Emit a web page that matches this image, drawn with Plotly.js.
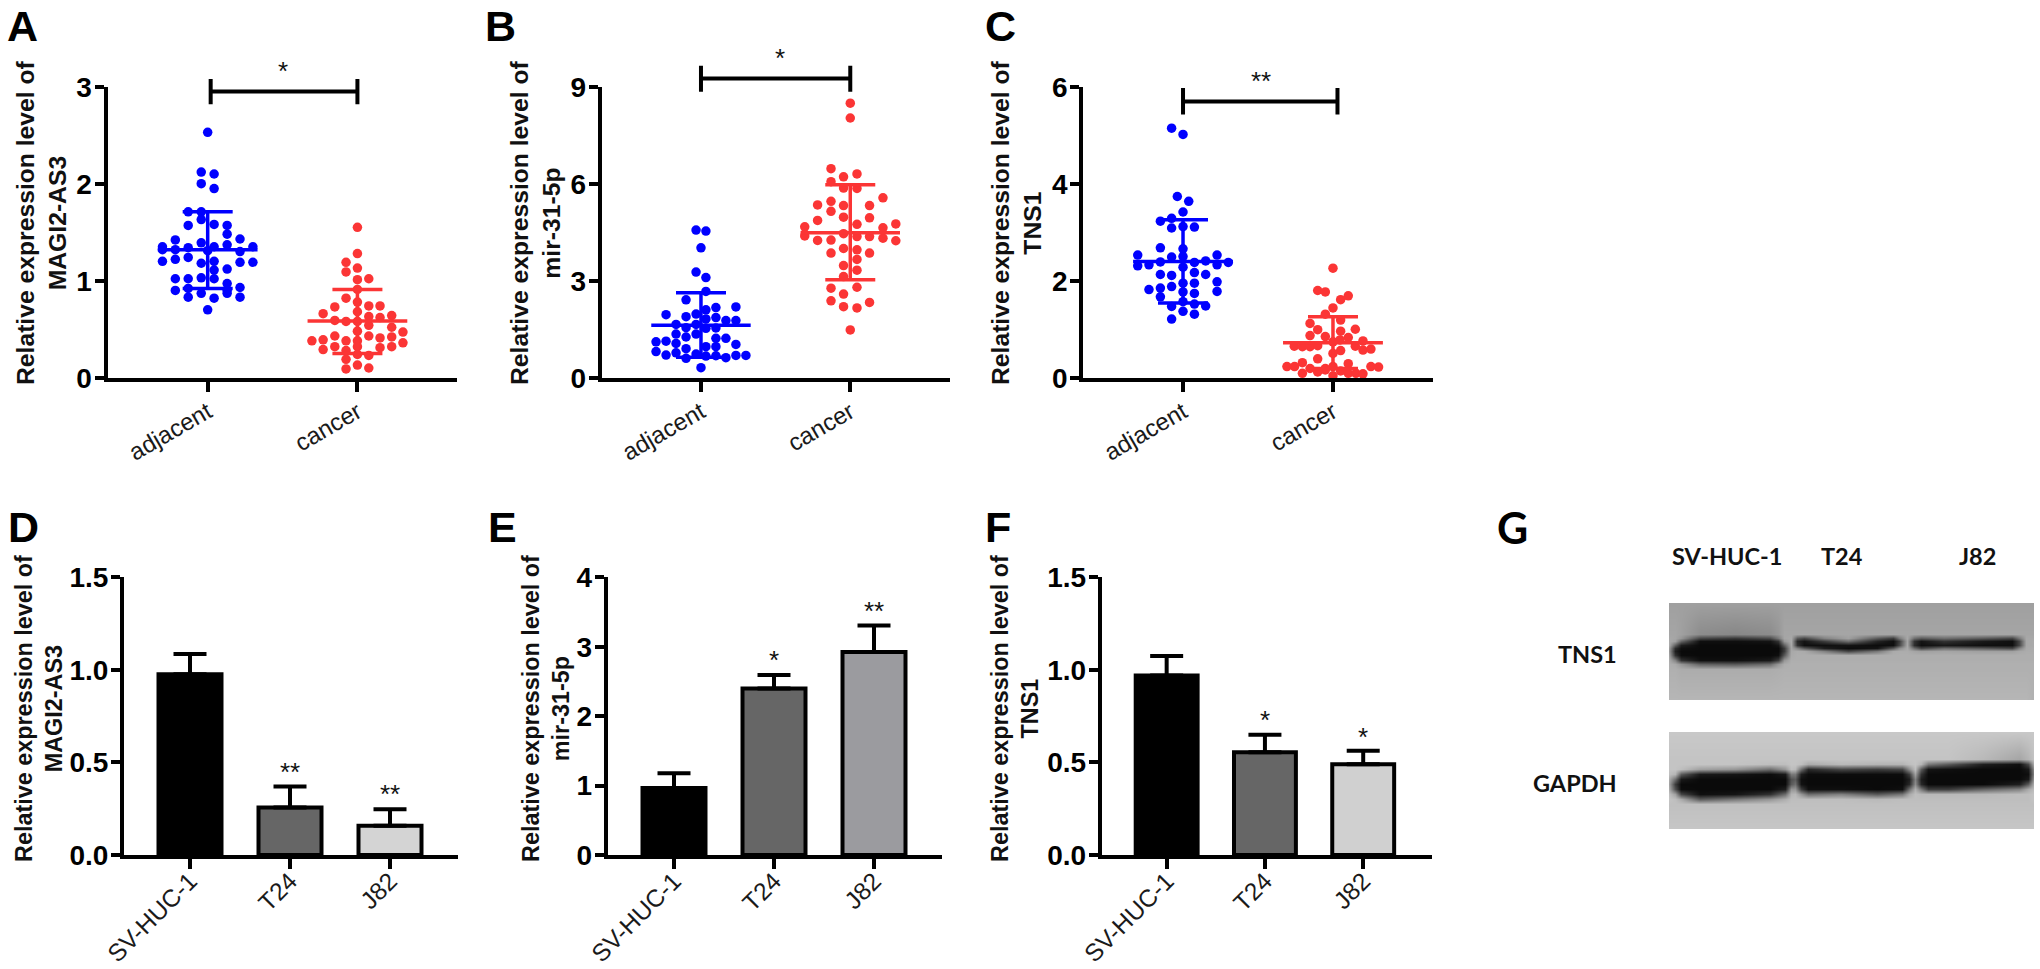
<!DOCTYPE html>
<html><head><meta charset="utf-8">
<script src="https://cdn.plot.ly/plotly-3.0.1.min.js"></script>
<style>html,body{margin:0;padding:0;background:#fff}#chart{width:2040px;height:969px}</style>
</head><body><div id="chart"></div>
<script>
const groupsAB = ['adjacent','cancer'];
const cellLines = ['SV-HUC-1','T24','J82'];

// Panel A: MAGI2-AS3 in tissue
const aAdjY = [2.53,2.12,2.10,2.00,1.95,1.71,1.71,1.63,1.57,1.58,1.57,1.48,1.42,1.43,1.39,1.35,1.35,1.34,1.37,1.35,1.32,1.32,1.30,1.31,1.20,1.22,1.24,1.18,1.20,1.19,1.19,1.11,1.12,1.02,1.02,1.03,1.02,.97,.92,.93,.90,.90,.87,.87,.83,.82,.83,.70];
const aAdjSwarm = [0,-.043,.043,-.043,.043,-.13,-.043,-.043,-.13,.043,.13,.13,-.216,.216,-.043,.043,-.302,-.13,.13,.302,-.302,-.216,.216,0,-.302,-.216,-.13,-.043,.043,.216,.302,.043,.13,-.216,-.13,-.043,.043,.13,-.13,.216,.13,-.216,-.043,.13,-.13,.043,.216,0];
const aCanY = [1.55,1.28,1.19,1.13,1.09,1.01,1.02,.91,.82,.78,.73,.74,.74,.66,.68,.64,.63,.62,.59,.58,.58,.54,.52,.48,.43,.43,.47,.38,.39,.38,.38,.41,.42,.36,.32,.29,.32,.31,.32,.28,.24,.23,.19,.13,.09,.10];
const aCanSwarm = [0,0,-.076,0,-.076,0,.076,0,-.076,0,-.151,.076,.151,-.229,0,.229,.076,.151,-.151,-.076,0,.076,.229,0,.076,-.151,.304,-.304,-.229,-.076,0,.151,.229,.304,-.151,-.229,0,.151,.229,-.076,0,.076,-.076,0,-.076,.076];
const aSummary = {mean:[1.32,.585], upper:[1.71,.91], lower:[.92,.25]};

// Panel B: mir-31-5p in tissue
const bAdjY = [4.57,4.54,4.02,3.27,3.10,2.67,2.41,2.10,2.17,2.19,1.95,1.89,1.97,1.86,1.82,1.77,1.77,1.65,1.65,1.53,1.55,1.54,1.35,1.35,1.26,1.22,1.22,1.11,1.13,1.06,1.03,.96,.96,.90,.81,.77,.70,.73,.67,.68,.69,.69,.60,.62,.31];
const bAdjSwarm = [-.033,.033,0,-.033,.033,.033,-.1,.033,.1,.234,-.234,-.1,-.033,.1,.033,.167,.234,-.167,-.033,.033,-.1,.1,-.167,-.033,-.1,.1,.167,-.301,-.234,-.167,.234,.033,.1,-.1,-.301,-.167,-.234,-.033,.033,.1,.234,.301,-.1,.167,0];
const bCanY = [8.50,8.04,6.47,6.31,6.22,6.07,5.87,5.86,5.57,5.46,5.35,5.33,5.33,5.15,4.97,4.95,4.87,4.75,4.67,4.64,4.76,4.39,4.46,4.37,4.37,4.32,4.25,4.26,4.24,4.0,3.96,3.86,3.86,3.66,3.47,3.33,3.13,2.77,2.80,2.59,2.38,2.33,2.20,2.16,1.48];
const bCanSwarm = [0,0,-.129,.045,-.045,-.129,-.045,.045,.219,-.129,-.219,-.045,.129,-.129,-.045,.129,-.219,.045,-.305,.219,.305,-.305,-.045,.045,.129,.219,-.219,-.129,.305,-.045,.045,-.129,.129,.045,-.045,.045,-.045,-.129,.045,-.045,-.129,.129,-.045,.045,0];
const bSummary = {mean:[1.62,4.49], upper:[2.63,5.97], lower:[.63,3.03]};

// Panel C: TNS1 in tissue
const cAdjY = [5.15,5.02,3.74,3.64,3.42,3.29,3.23,3.12,3.09,3.11,2.68,2.66,2.53,2.49,2.53,2.50,2.39,2.38,2.41,2.33,2.38,2.31,2.33,2.28,2.13,2.11,2.17,2.13,1.98,1.95,1.95,1.88,1.85,1.82,1.77,1.74,1.78,1.67,1.57,1.52,1.47,1.48,1.37,1.31,1.21];
const cAdjSwarm = [-.076,0,-.038,.038,0,-.076,-.151,0,-.076,.076,-.151,0,-.302,-.076,.227,0,-.151,.076,.151,.227,.302,-.302,-.227,0,-.151,-.076,.076,.151,.227,0,.076,-.076,-.151,-.227,0,.076,.227,-.151,0,.076,-.076,.151,0,.076,-.076];
const cCanY = [2.26,1.80,1.77,1.69,1.61,1.44,1.31,1.19,1.12,.99,.96,1.00,.87,.85,.83,.78,.76,.74,.65,.64,.64,.66,.65,.57,.59,.56,.50,.39,.31,.29,.23,.23,.19,.19,.23,.14,.23,.22,.09,.12,.04,.09,.09,.08,.16];
const cCanSwarm = [0,-.102,-.051,.102,.051,0,-.051,.051,-.153,-.102,.051,.149,-.153,-.051,.102,.047,.2,0,-.258,-.204,-.153,-.102,.149,.2,.253,.051,0,-.102,-.204,.102,-.307,-.256,-.153,-.051,0,.051,.253,.304,-.204,-.102,0,.102,.153,.2,-.051];
const cSummary = {mean:[2.40,.72], upper:[3.26,1.26], lower:[1.54,.19]};

// Panels D-F: cell lines
const dValues = [.976,.256,.158], dErrors = [.11,.114,.089];
const eValues = [.966,2.397,2.925], eErrors = [.211,.197,.38];
const fValues = [.97,.555,.49], fErrors = [.105,.095,.073];

// Western blot densitometry, grey level (0-255) sampled along the membrane
const blotTnsCols = [514,532,548,600,700,800,820,838,858,875,895,950,1020,1100,1145,1162,1185,1205,1225,1290,1400,1480,1500,1520,1543];
const blotTnsRows = [306,400,412,422,432,442,452,465,478,490,505,600];
const blotTnsZ = [
[160,160,160,160,160,160,160,160,160,160,160,160,160,160,160,160,160,160,160,160,160,160,160,160,160],
[165,165,160,140,135,140,150,165,165,165,165,165,165,165,165,165,165,165,165,165,165,165,165,165,165],
[168,165,150,70,55,75,120,165,168,90,70,130,160,90,60,120,168,110,90,110,90,70,120,168,168],
[170,160,100,15,15,20,50,150,170,40,20,60,110,35,15,60,165,50,20,50,25,15,70,168,170],
[168,95,30,10,10,10,20,95,168,50,15,15,20,12,15,70,168,45,15,25,15,15,70,168,170],
[155,45,15,10,10,10,10,60,165,130,90,30,12,20,90,140,170,110,70,110,90,70,130,170,172],
[150,30,10,10,10,10,10,60,168,172,170,130,70,120,170,172,172,165,160,165,160,160,168,172,172],
[160,50,12,10,10,10,15,90,170,174,174,174,174,174,174,174,174,174,174,174,174,174,174,174,174],
[170,130,50,15,15,25,60,150,174,174,174,174,174,174,174,174,174,174,174,174,174,174,174,174,174],
[175,170,150,100,90,110,150,172,176,176,176,176,176,176,176,176,176,176,176,176,176,176,176,176,176],
[176,176,172,172,172,172,174,176,176,176,176,176,176,176,176,176,176,176,176,176,176,176,176,176,176],
[182,182,182,182,182,182,182,182,182,182,182,182,182,182,182,182,182,182,182,182,182,182,182,182,176]];
const blotGapdhCols = [514,532,548,600,700,800,840,858,870,885,905,1000,1100,1170,1190,1208,1225,1245,1300,1400,1500,1525,1543];
const blotGapdhRows = [692,775,790,805,820,835,850,865,880,895,910,987];
const blotGapdhZ = [
[200,200,200,200,200,200,200,200,200,200,200,200,200,200,200,200,200,200,200,200,200,200,200],
[196,196,196,196,196,196,196,196,196,196,196,196,196,196,196,196,196,196,196,185,165,180,196],
[196,196,196,196,196,190,190,196,196,190,170,185,180,180,190,196,180,120,90,30,15,70,180],
[196,196,190,160,150,110,150,190,185,110,40,70,60,70,140,190,90,20,15,10,10,25,150],
[190,180,90,25,20,12,25,120,120,30,12,12,12,12,60,160,50,10,10,10,10,15,140],
[170,110,25,10,10,10,10,80,90,15,10,10,10,10,30,130,30,10,10,10,10,25,160],
[160,60,10,10,10,10,10,90,110,18,10,10,10,10,40,140,40,10,10,10,30,90,180],
[170,80,12,10,10,10,30,150,150,60,15,15,10,15,110,175,120,60,60,100,130,170,190],
[190,160,70,15,20,50,110,180,185,150,110,130,90,120,170,190,185,185,185,185,190,190,196],
[196,190,170,90,120,150,175,190,190,190,190,190,185,190,190,190,190,190,190,190,190,190,196],
[192,192,192,192,192,192,192,192,192,192,192,192,192,192,192,192,192,192,192,192,192,192,192],
[198,198,198,198,198,198,198,198,198,198,198,198,198,198,198,198,198,198,198,198,198,198,198]];

const W = 2040, H = 969;
const FONT = '"Liberation Sans", Arial, sans-serif';
const BLUE = '#0000ff', RED = '#fb3535', LW = 4;
const traces = [], annotations = [];
const layout = {
  width: W, height: H, margin: {l:0,r:0,t:0,b:0}, showlegend: false,
  paper_bgcolor: '#fff', plot_bgcolor: 'rgba(0,0,0,0)', font: {family: FONT, color: '#000'},
  annotations
};
const px = v => v / W, py = v => 1 - v / H;

function axes(n, box, xRange, yMax, yVals, yText, xVals, xText, angle, labelSize, standoff) {
  const sfx = n === 1 ? '' : n;
  layout['xaxis' + sfx] = {
    domain: [px(box.l), px(box.r)], range: xRange, anchor: 'y' + sfx, showgrid: false, zeroline: false,
    showline: true, linecolor: '#000', linewidth: LW, ticks: 'outside', ticklen: 10, tickwidth: LW, tickcolor: '#000',
    tickmode: 'array', tickvals: xVals, ticktext: xText, tickangle: angle, ticklabelstandoff: standoff,
    tickfont: {family: FONT, size: labelSize, color: '#1a1a1a'}
  };
  layout['yaxis' + sfx] = {
    domain: [py(box.b), py(box.t)], range: [0, yMax], anchor: 'x' + sfx, showgrid: false, zeroline: false,
    showline: true, linecolor: '#000', linewidth: LW, ticks: 'outside', ticklen: 9, tickwidth: LW, tickcolor: '#000',
    tickmode: 'array', tickvals: yVals, ticktext: yText, ticklabelstandoff: -3,
    tickfont: {family: FONT, size: 28, weight: 'bold', color: '#000'}
  };
  return ['x' + sfx, 'y' + sfx];
}
function yTitle(line1, line2, xp, yp, size) {
  annotations.push({xref:'paper', yref:'paper', x:px(xp), y:py(yp), text: line1 + '<br>' + line2, textangle:-90,
    showarrow:false, xanchor:'center', yanchor:'middle', align:'center',
    font:{family:FONT, size, weight:'bold', color:'#111'}});
}
function letter(t, xp, yp, family) {
  annotations.push({xref:'paper', yref:'paper', x:px(xp), y:py(yp), text:t, showarrow:false, xanchor:'center', yanchor:'middle',
    font:{family: family || FONT, size:43, weight:'bold', color:'#000'}});
}
function star(t, xa, ya, x, y) {
  annotations.push({xref:xa, yref:ya, x, y, text:t, showarrow:false, xanchor:'center', yanchor:'middle', yshift:-3,
    font:{family:FONT, size:26, color:'#111'}});
}
function swarm(xa, ya, cat, swarmOff, ys, color) {
  traces.push({type:'scatter', mode:'markers', xaxis:xa, yaxis:ya, cliponaxis:false,
    x: swarmOff.map(o => cat + o), y: ys, marker:{color, size:9.5, line:{width:0}}, hoverinfo:'y'});
}
function summary(xa, ya, s) {
  const colors = [BLUE, RED];
  [0,1].forEach(i => {
    traces.push({type:'scatter', mode:'markers', xaxis:xa, yaxis:ya, cliponaxis:false, x:[i+1], y:[s.mean[i]],
      marker:{size:1, color:colors[i], opacity:0},
      error_y:{type:'data', symmetric:false, array:[s.upper[i]-s.mean[i]], arrayminus:[s.mean[i]-s.lower[i]], color:colors[i], thickness:3.5, width:25},
      error_x:{type:'constant', value:.333, color:colors[i], thickness:3.5, width:0}, hoverinfo:'skip'});
  });
}
// brackets sit above the axis maximum, so they use a hidden y axis with the same scale that reaches higher
function bracket(n, xa, box, yMax, br) {
  const ya = 'y' + n, stretch = 1.25;
  layout['yaxis' + n] = {domain:[py(box.b), py(box.b - (box.b - box.t) * stretch)], range:[0, yMax * stretch], visible:false, anchor:xa, fixedrange:true};
  traces.push({type:'scatter', mode:'lines', xaxis:xa, yaxis:ya, cliponaxis:false,
    x:[br.x0,br.x0,null,br.x0,br.x1,null,br.x1,br.x1], y:[br.lo,br.hi,null,br.y,br.y,null,br.lo,br.hi], line:{color:'#000', width:4}, hoverinfo:'skip'});
  star(br.label, xa, ya, br.sx, br.sy);
}
function scatterPanel(n, box, xRange, yMax, yVals, adjOff, adjY, canOff, canY, s, br) {
  const [xa, ya] = axes(n, box, xRange, yMax, yVals, yVals.map(String), [1,2], groupsAB, -30, 24, -3);
  swarm(xa, ya, 1, adjOff, adjY, BLUE);
  swarm(xa, ya, 2, canOff, canY, RED);
  summary(xa, ya, s);
  bracket(n + 8, xa, box, yMax, br);
}
function barPanel(n, box, xRange, yMax, yVals, yText, vals, errs, colors, stars) {
  const [xa, ya] = axes(n, box, xRange, yMax, yVals, yText, [1,2,3], cellLines, -45, 24.5, -12);
  traces.push({type:'bar', xaxis:xa, yaxis:ya, x:[1,2,3], y:vals, width:.63, cliponaxis:false,
    marker:{color:colors, line:{color:'#000', width:4}},
    error_y:{type:'data', symmetric:false, array:errs, arrayminus:[0,0,0], color:'#000', thickness:LW, width:16.5}});
  stars.forEach(s => star(s[0], xa, ya, s[1], s[2]));
}

scatterPanel(1, {l:107.5,r:457,t:86.7,b:377.7}, [.331,2.665], 3, [0,1,2,3], aAdjSwarm, aAdjY, aCanSwarm, aCanY, aSummary,
  {x0:1.02,x1:2,y:2.95,lo:2.82,hi:3.08,label:'*',sx:1.5,sy:3.19});
scatterPanel(2, {l:601.7,r:950,t:87,b:377.7}, [.335,2.668], 9, [0,3,6,9], bAdjSwarm, bAdjY, bCanSwarm, bCanY, bSummary,
  {x0:1,x1:2,y:9.26,lo:8.85,hi:9.66,label:'*',sx:1.53,sy:10});
scatterPanel(3, {l:1083.3,r:1433,t:87,b:377.7}, [.335,2.667], 6, [0,2,4,6], cAdjSwarm, cAdjY, cCanSwarm, cCanY, cSummary,
  {x0:1,x1:2.03,y:5.70,lo:5.43,hi:5.98,label:'**',sx:1.52,sy:6.19});

barPanel(4, {l:124,r:458,t:577.3,b:855}, [.34,3.68], 1.5, [0,.5,1,1.5], ['0.0','0.5','1.0','1.5'], dValues, dErrors, ['#000000','#666666','#d4d4d4'], [['**',2,.465],['**',3,.346]]);
barPanel(5, {l:607.7,r:942,t:577.3,b:855}, [.337,3.68], 4, [0,1,2,3,4], ['0','1','2','3','4'], eValues, eErrors, ['#000000','#666666','#9b9b9f'], [['*',2,2.857],['**',3,3.56]]);
barPanel(6, {l:1101.7,r:1432,t:577.3,b:855}, [.339,3.70], 1.5, [0,.5,1,1.5], ['0.0','0.5','1.0','1.5'], fValues, fErrors, ['#000000','#666666','#d0d0d0'], [['*',2,.747],['*',3,.652]]);

yTitle('Relative expression level of','MAGI2-AS3',41,223,24.7);
yTitle('Relative expression level of','mir-31-5p',535,223,24.7);
yTitle('Relative expression level of','TNS1',1016,223,24.7);
yTitle('Relative expression level of','MAGI2-AS3',39,709,23.4);
yTitle('Relative expression level of','mir-31-5p',546,709,23.4);
yTitle('Relative expression level of','TNS1',1015,709,23.4);

letter('A',22,26); letter('B',500,26); letter('C',1000,26);
letter('D',23,527); letter('E',502,527); letter('F',998,527); letter('G',1512,527,'Lato');

// Panel G: western blot membranes
function blot(n, cols, rows, z, box, yr) {
  layout['xaxis'+n] = {domain:[px(box.l),px(box.r)], range:[514,1543], visible:false, anchor:'y'+n, fixedrange:true};
  layout['yaxis'+n] = {domain:[py(box.b),py(box.t)], range:yr, visible:false, anchor:'x'+n, fixedrange:true};
  traces.push({type:'heatmap', xaxis:'x'+n, yaxis:'y'+n, x:cols, y:rows, z, zmin:0, zmax:255, zsmooth:'best', showscale:false,
    colorscale:[[0,'#000000'],[1,'#ffffff']], hoverinfo:'skip'});
}
blot(7, blotTnsCols, blotTnsRows, blotTnsZ, {l:1669,r:2034,t:603,b:700}, [600,306]);
blot(8, blotGapdhCols, blotGapdhRows, blotGapdhZ, {l:1669,r:2034,t:732,b:829}, [987,692]);

function blotLabel(t, xp, yp, anchor) {
  annotations.push({xref:'paper', yref:'paper', x:px(xp), y:py(yp), text:t, showarrow:false, xanchor:anchor, yanchor:'middle',
    font:{family:'Lato', size:23.5, weight:'bold', color:'#111'}});
}
blotLabel('SV-HUC-1',1727,556,'center'); blotLabel('T24',1842,556,'center'); blotLabel('J82',1977,556,'center');
blotLabel('TNS1',1619,654,'right'); blotLabel('GAPDH',1619,783,'right');

Plotly.newPlot('chart', traces, layout, {displayModeBar:false, responsive:false});
</script></body></html>
